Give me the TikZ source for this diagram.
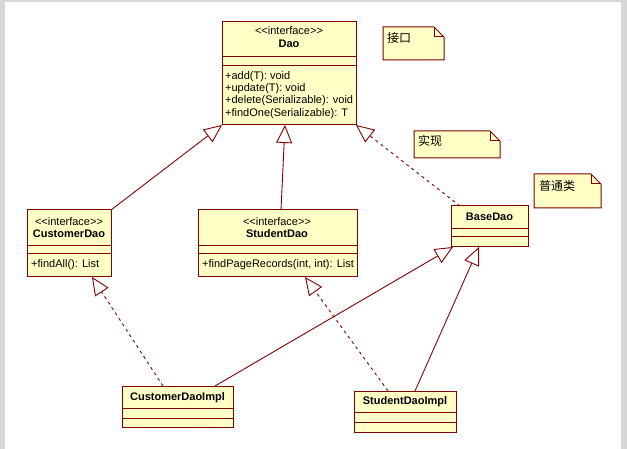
\documentclass[tikz,border=0pt]{standalone}
\usepackage{fontspec}
\setmainfont{Liberation Sans}
\newfontfamily\cjkf{Noto Sans CJK SC}
\usetikzlibrary{arrows.meta}
\definecolor{umlline}{HTML}{800000}
\definecolor{umlfill}{HTML}{FFFFC6}
\definecolor{framegray}{HTML}{D6D6D6}
\tikzset{
  cls/.style={draw=umlline, fill=umlfill, line width=1pt, anchor=north west, inner sep=0pt, outer sep=0pt},
  sep/.style={draw=umlline, line width=1pt},
  txt/.style={inner sep=0pt, font=\fontsize{11}{12}\selectfont},
  btxt/.style={inner sep=0pt, font=\fontsize{11}{12}\selectfont\bfseries},
  mtxt/.style={inner sep=0pt, anchor=west, font=\fontsize{11}{12}\selectfont},
  notebox/.style={draw=umlline, fill=umlfill, line width=1pt, line join=miter},
  notetxt/.style={inner sep=0pt, anchor=west, font=\cjkf\fontsize{12}{14}\selectfont},
  gen/.style={draw=umlline, line width=0.9pt, -{Triangle[open, length=18pt, width=16pt, line width=0.9pt]}},
  real/.style={gen, dash pattern=on 3pt off 3.5pt},
}
\begin{document}
\begin{tikzpicture}[x=1pt, y=-1pt]
\useasboundingbox (0,0) rectangle (627,449);
\fill[white] (0,0) rectangle (627,449);
% window frame
\fill[framegray] (0,0) rectangle (5,449);
\fill[framegray] (0,0) rectangle (627,2);
\fill[framegray] (621,0) rectangle (627,449);

% Dao
\node[cls, minimum width=134pt, minimum height=103pt] (dao) at (222,22) {};
\draw[sep] ([yshift=-35pt]dao.north west) -- ([yshift=-35pt]dao.north east);
\draw[sep] ([yshift=-44pt]dao.north west) -- ([yshift=-44pt]dao.north east);
\node[txt] (daoster) at (289,31) {<{}<interface>{}>};
\node[btxt] (daoname) at (289,44) {Dao};
\node[mtxt] (daom1) at (225,77) {+add(T): void};
\node[mtxt] (daom2) at (225,89) {+update(T): void};
\node[mtxt] (daom3) at (225,101) {+delete(Serializable): void};
\node[mtxt] (daom4) at (225,114) {+findOne(Serializable): T};

% CustomerDao
\node[cls, minimum width=84pt, minimum height=67pt] (cd) at (27,210) {};
\draw[sep] ([yshift=-36pt]cd.north west) -- ([yshift=-36pt]cd.north east);
\draw[sep] ([yshift=-44pt]cd.north west) -- ([yshift=-44pt]cd.north east);
\node[txt] (cdster) at (69,222) {<{}<interface>{}>};
\node[btxt] (cdname) at (69,234) {CustomerDao};
\node[mtxt] (cdm1) at (31,265) {+findAll(): List};

% StudentDao
\node[cls, minimum width=159pt, minimum height=67pt] (sd) at (198,210) {};
\draw[sep] ([yshift=-36pt]sd.north west) -- ([yshift=-36pt]sd.north east);
\draw[sep] ([yshift=-44pt]sd.north west) -- ([yshift=-44pt]sd.north east);
\node[txt] (sdster) at (277,222) {<{}<interface>{}>};
\node[btxt] (sdname) at (277,234) {StudentDao};
\node[mtxt] (sdm1) at (202,265) {+findPageRecords(int, int): List};

% BaseDao
\node[cls, minimum width=77pt, minimum height=41pt] (bd) at (451,206) {};
\draw[sep] ([yshift=-23pt]bd.north west) -- ([yshift=-23pt]bd.north east);
\draw[sep] ([yshift=-31pt]bd.north west) -- ([yshift=-31pt]bd.north east);
\node[btxt] (bdname) at (489.5,217) {BaseDao};

% CustomerDaoImpl
\node[cls, minimum width=111pt, minimum height=41pt] (cdi) at (122,386) {};
\draw[sep] ([yshift=-22pt]cdi.north west) -- ([yshift=-22pt]cdi.north east);
\draw[sep] ([yshift=-32pt]cdi.north west) -- ([yshift=-32pt]cdi.north east);
\node[btxt] (cdiname) at (177.5,398) {CustomerDaoImpl};

% StudentDaoImpl
\node[cls, minimum width=102pt, minimum height=41pt] (sdi) at (354,391) {};
\draw[sep] ([yshift=-21pt]sdi.north west) -- ([yshift=-21pt]sdi.north east);
\draw[sep] ([yshift=-31pt]sdi.north west) -- ([yshift=-31pt]sdi.north east);
\node[btxt] (sdiname) at (405,402) {StudentDaoImpl};

% notes
\draw[notebox] (383,27) -- (434,27) -- (444,37) -- (444,60) -- (383,60) -- cycle;
\draw[sep] (434,27) -- (434,37) -- (444,37);
\node[notetxt] (n1) at (387,38) {接口};
\draw[notebox] (414,131) -- (490,131) -- (500,141) -- (500,158) -- (414,158) -- cycle;
\draw[sep] (490,131) -- (490,141) -- (500,141);
\node[notetxt] (n2) at (418,141) {实现};
\draw[notebox] (534,174) -- (591,174) -- (601,184) -- (601,208) -- (534,208) -- cycle;
\draw[sep] (591,174) -- (591,184) -- (601,184);
\node[notetxt] (n3) at (539,186) {普通类};

% connectors
\draw[gen] (cd.north east) -- (dao.south west);
\draw[gen] ([xshift=83pt]sd.north west) -- ([xshift=63pt]dao.south west);
\draw[real] ([xshift=9pt]bd.north west) -- (dao.south east);
\draw[real] ([xshift=41pt]cdi.north west) -- ([xshift=65pt]cd.south west);
\draw[gen] ([xshift=93pt]cdi.north west) -- ([xshift=2pt]bd.south west);
\draw[real] ([xshift=34pt]sdi.north west) -- ([xshift=107pt]sd.south west);
\draw[gen] ([xshift=61pt]sdi.north west) -- ([xshift=28pt]bd.south west);
\end{tikzpicture}
\end{document}
